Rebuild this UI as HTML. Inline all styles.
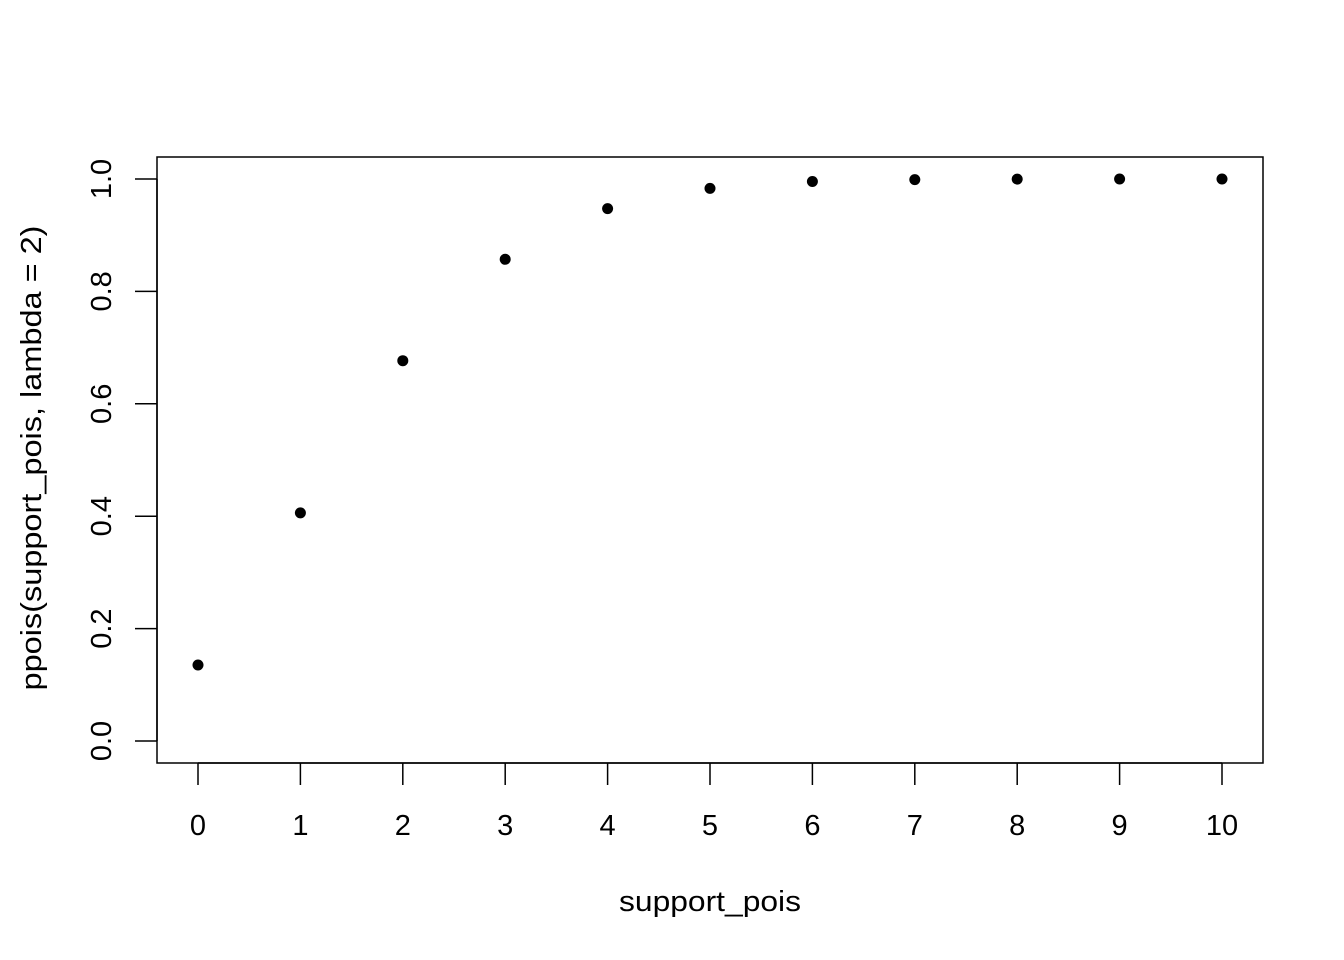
<!DOCTYPE html>
<html><head><meta charset="utf-8"><style>
html,body{margin:0;padding:0;background:#fff;}
svg{display:block;font-family:"Liberation Sans",Arial,sans-serif;}
</style></head><body>
<svg id="chart" width="1344" height="960" viewBox="0 0 1344 960">
<rect x="157" y="157" width="1106" height="606" fill="none" stroke="#000" stroke-width="1.5"/>
<g id="xaxis"></g>
<g id="yaxis"></g>
<g id="points"></g>
<text x="710" y="911" font-size="29" text-anchor="middle" textLength="182" lengthAdjust="spacingAndGlyphs">support_pois</text>
<text transform="translate(41,458) rotate(-90)" font-size="29" text-anchor="middle" textLength="465" lengthAdjust="spacingAndGlyphs">ppois(support_pois, lambda = 2)</text>
</svg>
<script>
const xValues = [0,1,2,3,4,5,6,7,8,9,10];
const yValues = [0.1353,0.4060,0.6767,0.8571,0.9473,0.9834,0.9955,0.9989,0.9998,1.0000,1.0000];
const xTicks = [0,1,2,3,4,5,6,7,8,9,10];
const yTicks = [0.0,0.2,0.4,0.6,0.8,1.0];
const yTickLabels = ["0.0","0.2","0.4","0.6","0.8","1.0"];

const NS = "http://www.w3.org/2000/svg";
function sx(v){ return 198 + (v - 0) * 102.4; }
function sy(v){ return 741 - v * 562; }
function mk(tag, attrs, parent){
  const e = document.createElementNS(NS, tag);
  for (const k in attrs) e.setAttribute(k, attrs[k]);
  parent.appendChild(e);
  return e;
}
const xg = document.getElementById('xaxis');
const yg = document.getElementById('yaxis');
const pg = document.getElementById('points');

const xl = mk('line', {x1: sx(xTicks[0]), x2: sx(xTicks[xTicks.length-1]), y1: 763, y2: 763, stroke: '#000', 'stroke-width': 1.5}, xg);


xTicks.forEach(t => {
  const l = mk('line', {x1: sx(t), x2: sx(t), y1: 763, y2: 785, stroke: '#000', 'stroke-width': 1.5}, xg);
  
  
  const tx = mk('text', {x: sx(t), y: 835, 'font-size': 29, 'text-anchor': 'middle'}, xg);
  tx.textContent = String(t);
  
  
});

const yl = mk('line', {x1: 157, x2: 157, y1: sy(yTicks[0]), y2: sy(yTicks[yTicks.length-1]), stroke: '#000', 'stroke-width': 1.5}, yg);


yTicks.forEach((t, i) => {
  const l = mk('line', {x1: 135, x2: 157, y1: sy(t), y2: sy(t), stroke: '#000', 'stroke-width': 1.5}, yg);
  
  
  const tx = mk('text', {transform: `translate(111,${sy(t)}) rotate(-90)`, 'font-size': 29, 'text-anchor': 'middle'}, yg);
  tx.textContent = yTickLabels[i];
  
  
});

xValues.forEach((x, i) => {
  const c = mk('circle', {cx: sx(x), cy: sy(yValues[i]), r: 5.5, fill: '#000'}, pg);
  
  
});
</script>
</body></html>
